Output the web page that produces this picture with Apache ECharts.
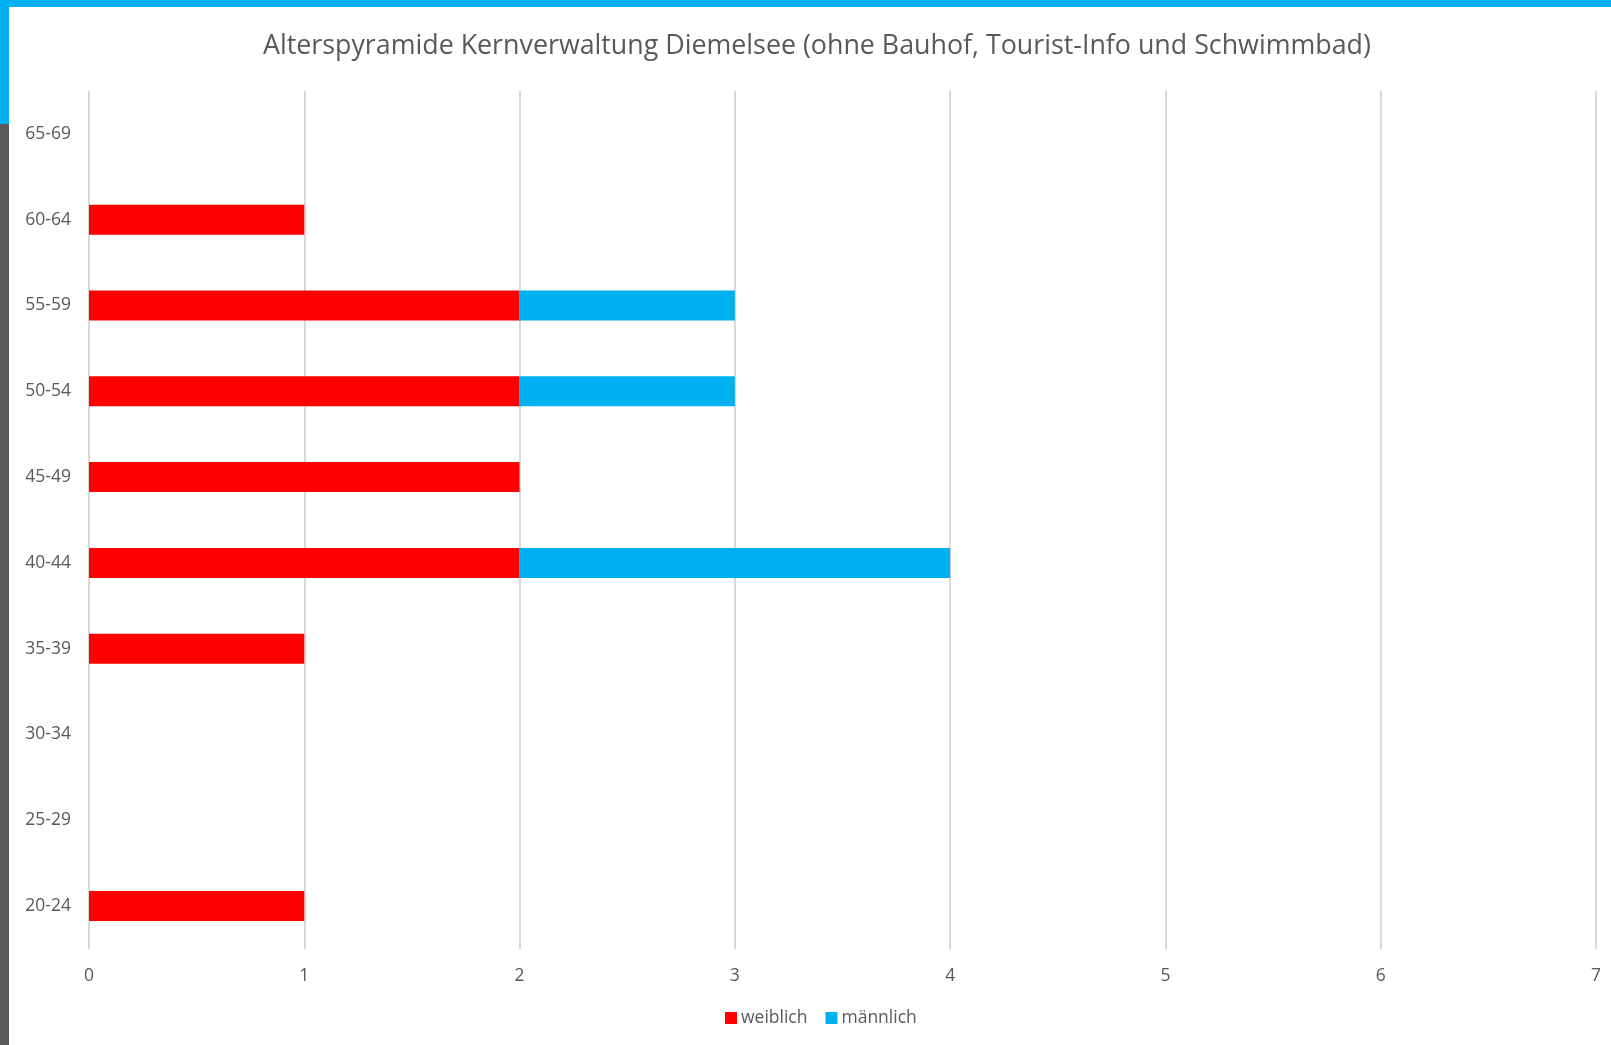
<!DOCTYPE html>
<html><head><meta charset="utf-8">
<style>html,body{margin:0;padding:0;background:#fff;}#c{width:1611px;height:1045px;}</style>
<script src="https://cdn.jsdelivr.net/npm/echarts@6/dist/echarts.min.js"></script>
</head><body><div id="c"></div>
<script>
const categories = ['20-24','25-29','30-34','35-39','40-44','45-49','50-54','55-59','60-64','65-69'];
const weiblich = [1,0,0,1,2,2,2,2,1,0];
const maennlich = [0,0,0,0,2,0,1,1,0,0];
const xTicks = {min:0, max:7, interval:1};

const chart = echarts.init(document.getElementById('c'));
const font = '"Open Sans", "Noto Sans", sans-serif';
chart.setOption({
  animation:false,
  backgroundColor:'#fff',
  title:{text:'Alterspyramide Kernverwaltung Diemelsee (ohne Bauhof, Tourist-Info und Schwimmbad)',
    left:258, top:28, padding:5,
    textStyle:{fontFamily:font, fontSize:26.8, fontWeight:'normal', color:'#595959'}},
  legend:{bottom:13, left:720, itemWidth:12, itemHeight:12, itemGap:18, icon:'rect',
    padding:5,
    textStyle:{fontFamily:font, fontSize:17.5, color:'#595959', padding:[0,0,0,-1]},
    data:['weiblich','männlich']},
  grid:{left:89, right:15, top:91, bottom:96},
  xAxis:{type:'value', min:xTicks.min, max:xTicks.max, interval:xTicks.interval,
    axisLine:{show:false}, axisTick:{show:false},
    axisLabel:{fontFamily:font, fontSize:17.5, color:'#595959', margin:18},
    splitLine:{lineStyle:{color:'#d9d9d9', width:2}}},
  yAxis:{type:'category', data:categories,
    axisLine:{show:false}, axisTick:{show:false},
    axisLabel:{fontFamily:font, fontSize:17.5, color:'#595959', margin:18}},
  series:[
    {name:'weiblich', type:'bar', stack:'a', data:weiblich, barWidth:30, itemStyle:{color:'#ff0000'}},
    {name:'männlich', type:'bar', stack:'a', data:maennlich, barWidth:30, itemStyle:{color:'#00b0f0'}}
  ],
  graphic:[
    {type:'rect', shape:{x:0,y:0,width:1611,height:7}, style:{fill:'#00b0f0'}, z:100},
    {type:'rect', shape:{x:0,y:0,width:9,height:124}, style:{fill:'#00b0f0'}, z:100},
    {type:'rect', shape:{x:0,y:124,width:9,height:921}, style:{fill:'#5a5a5a'}, z:100}
  ]
});
</script></body></html>
